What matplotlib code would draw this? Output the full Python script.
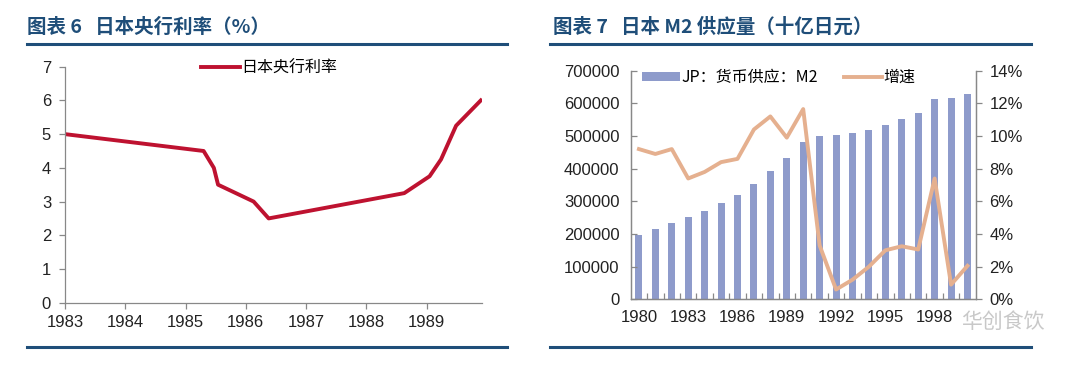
import matplotlib.pyplot as plt
import numpy as np

# 日本央行利率 (x in fractional years)
rate_x = [1983.0, 1985.30, 1985.47, 1985.54, 1986.13, 1986.38, 1988.63, 1989.05, 1989.24, 1989.49, 1989.90]
rate_y = [5.0, 4.5, 4.0, 3.5, 3.0, 2.5, 3.25, 3.75, 4.25, 5.25, 6.0]
rate_years = [1983, 1984, 1985, 1986, 1987, 1988, 1989]

# 日本M2供应量 (十亿日元) and growth (%)
m2_years = list(range(1980, 2001))
m2_values = [197000, 214000, 234000, 251000, 271000, 294000, 319000, 354000, 392000, 432000,
             482000, 500000, 503000, 508000, 519000, 535000, 552000, 569000, 612000, 615000, 628000]
m2_growth = [9.2, 8.9, 9.2, 7.4, 7.8, 8.4, 8.6, 10.4, 11.2, 9.9,
             11.65, 3.3, 0.6, 1.2, 2.0, 3.0, 3.25, 3.05, 7.4, 0.9, 2.05]

W, H = 1080, 369
NAVY = "#1F4E79"
TXT = "#222222"
LATIN = ["Liberation Sans", "Noto Sans CJK SC"]
CJK = ["Noto Sans CJK SC", "DejaVu Sans"]

plt.rcParams["font.family"] = LATIN

fig = plt.figure(figsize=(W / 100, H / 100), dpi=100)
fig.patch.set_facecolor("white")


def px_axes(x0, y0, x1, y1):
    return fig.add_axes([x0 / W, 1 - y1 / H, (x1 - x0) / W, (y1 - y0) / H])


def rule(x0, x1, y):
    fig.add_artist(plt.Line2D([x0 / W, x1 / W], [1 - y / H, 1 - y / H],
                              color=NAVY, lw=2.2, transform=fig.transFigure))


# titles and rules
fig.text(27 / W, 1 - 27 / H, "图表 6   日本央行利率（%）", family=CJK, fontsize=14,
         fontweight="bold", color=NAVY, va="center", ha="left")
fig.text(553 / W, 1 - 27 / H, "图表 7   日本 M2 供应量（十亿日元）", family=CJK, fontsize=14,
         fontweight="bold", color=NAVY, va="center", ha="left")
rule(27, 507, 44)
rule(550, 1031, 44)
rule(27, 507, 347)
rule(550, 1031, 347)

# ---- left chart ----
ax = px_axes(65, 66.7, 482, 302.7)
ax.plot(rate_x, rate_y, color="#BE1230", lw=2.8, label="日本央行利率", solid_joinstyle="round")
ax.set_xlim(1983, 1989.92)
ax.set_ylim(0, 7)
ax.set_xticks(rate_years)
ax.set_xticklabels([str(y) for y in rate_years])
ax.set_yticks(range(0, 8))
for s in ["top", "right"]:
    ax.spines[s].set_visible(False)
for s in ["left", "bottom"]:
    ax.spines[s].set_color("#888888")
    ax.spines[s].set_linewidth(0.9)
ax.tick_params(axis="both", colors="#888888", labelcolor=TXT, labelsize=12, length=4, width=0.9)
ax.tick_params(axis="x", pad=5)
ax.tick_params(axis="y", pad=6)
ax.legend(loc="upper center", bbox_to_anchor=(0.49, 1.09), frameon=False,
          prop={"family": CJK, "size": 11.5}, handlelength=2.4, handletextpad=0.1)

# ---- right chart ----
ax2 = px_axes(630.7, 70.7, 975.7, 299.3)
idx = np.arange(len(m2_years))
bars = ax2.bar(idx, m2_values, width=0.42, color="#8E9BCB", label="JP：货币供应：M2")
ax2.set_xlim(-0.5, len(m2_years) - 0.5)
ax2.set_ylim(0, 700000)
ax2.set_yticks(range(0, 700001, 100000))
ax2.set_xticks(idx[::3])
ax2.set_xticklabels([str(m2_years[i]) for i in idx[::3]])
ax2.set_xticks(idx[:-1] + 0.5, minor=True)
ax2.tick_params(axis="x", which="major", length=0, pad=8)
ax2.tick_params(axis="x", which="minor", direction="in", length=4, colors="#888888", width=0.9)
ax2.tick_params(axis="y", direction="in", length=4, colors="#888888", width=0.9, pad=8)
ax2.tick_params(axis="both", labelcolor=TXT, labelsize=12)
ax2.spines["top"].set_visible(False)
for s in ["left", "bottom", "right"]:
    ax2.spines[s].set_color("#888888")
    ax2.spines[s].set_linewidth(0.9)

ax3 = ax2.twinx()
ln = ax3.plot(idx, m2_growth, color="#E5B08F", lw=2.8, label="增速", solid_joinstyle="round")
ax3.set_ylim(0, 14)
ax3.set_yticks(range(0, 15, 2))
ax3.set_yticklabels([f"{v}%" for v in range(0, 15, 2)])
ax3.tick_params(axis="y", direction="out", length=4, colors="#888888", width=0.9,
                labelcolor=TXT, labelsize=12, pad=6)
ax3.spines["top"].set_visible(False)
for s in ["left", "bottom", "right"]:
    ax3.spines[s].set_color("#888888")
    ax3.spines[s].set_linewidth(0.9)

handles = [bars, ln[0]]
ax2.legend(handles, [h.get_label() for h in handles], loc="upper left", ncol=2,
           bbox_to_anchor=(-0.01, 1.07), frameon=False, prop={"family": CJK, "size": 11.5},
           handlelength=2.4, handleheight=0.55, handletextpad=0.1, columnspacing=1.6)

# watermark
fig.text(1003 / W, 1 - 322 / H, "华创食饮", family=CJK, fontsize=15, color="#BBBBBB",
         alpha=0.8, ha="center", va="center")

fig.savefig("out.png", dpi=100)
